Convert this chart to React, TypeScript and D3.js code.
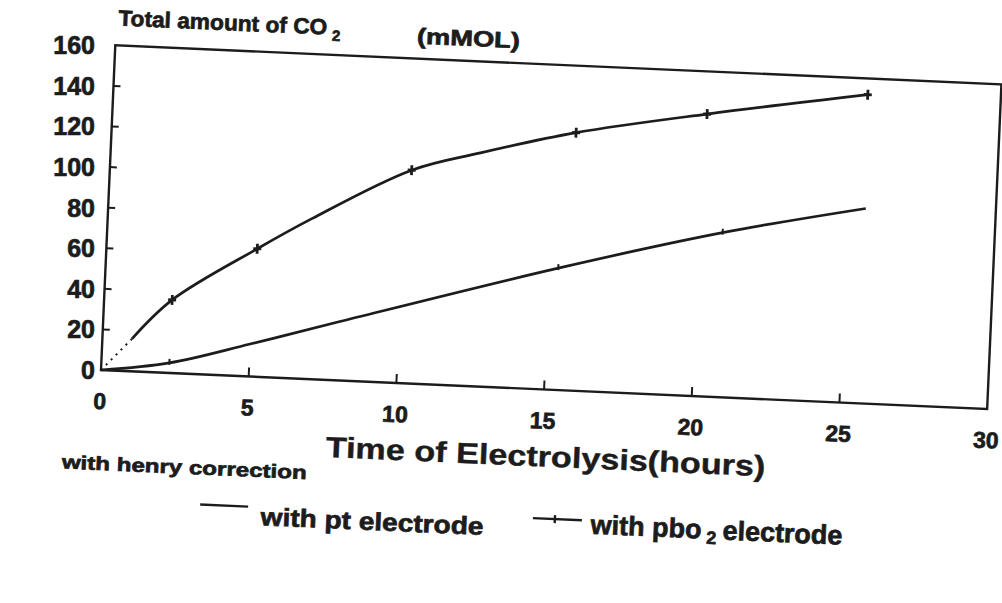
import React from 'react';
import * as d3 from 'd3';

// pt electrode (no markers, small ticks only)
const ptHours = [0, 2.3, 5, 8, 15.3, 20.8, 25.6];
const ptCO2 = [0, 5, 16, 29, 60, 81, 96];
const ptTicked = [2.3, 15.3, 20.8];

// pbo2 electrode (+ markers), first segment from origin is dotted
const pbHours = [1.0, 2.3, 5.1, 6.9, 10.2, 12.5, 15.7, 20.1, 25.5];
const pbCO2 = [16, 36, 63, 79, 105, 115, 127, 139, 152];
const pbMarked = [2.3, 5.1, 10.2, 15.7, 20.1, 25.5];

const xTicks = [0, 5, 10, 15, 20, 25, 30];
const yTicks = [0, 20, 40, 60, 80, 100, 120, 140, 160];

const W = 1002;
const H = 603;
const origin = { x: 101, y: 370 };
const angle = 2.52; // the scan is turned a little
const ink = '#1c1c1c';
const font = "'Liberation Sans', Arial, sans-serif";

// scanned print looks heavier than plain bold
const heavy = { fontWeight: 'bold', fill: ink, stroke: ink, strokeWidth: 0.7 } as const;

export default function App() {
  const x = d3.scaleLinear().domain([0, 30]).range([0, 887]);
  const y = d3.scaleLinear().domain([0, 160]).range([0, -325]);
  const cos = Math.cos((angle * Math.PI) / 180);

  const line = d3
    .line<[number, number]>()
    .x((d) => x(d[0]))
    .y((d) => y(d[1]))
    .curve(d3.curveCatmullRom.alpha(0.5));

  const ptPts = ptHours.map((h, i) => [h, ptCO2[i]] as [number, number]);
  const pbPts = pbHours.map((h, i) => [h, pbCO2[i]] as [number, number]);
  const dotted = d3.line<[number, number]>().x((d) => x(d[0])).y((d) => y(d[1]))([
    [0, 0],
    pbPts[0],
  ]);

  const ptAt = (h: number) => ptCO2[ptHours.indexOf(h)];
  const pbAt = (h: number) => pbCO2[pbHours.indexOf(h)];

  return (
    <svg
      width={W}
      height={H}
      style={{ position: 'absolute', left: 0, top: 0, background: '#fff' }}
      fontFamily={font}
    >
      <rect width={W} height={H} fill="#fff" />

      {/* y tick labels stay upright on the page */}
      {yTicks.map((t) => (
        <text
          key={'yl' + t}
          x={95}
          y={origin.y + y(t) * cos + 9}
          textAnchor="end"
          fontSize={25}
          {...heavy}
        >
          {t}
        </text>
      ))}

      <g transform={`translate(${origin.x},${origin.y}) rotate(${angle})`}>
        {/* frame */}
        <rect
          x={0}
          y={y(160)}
          width={x(30)}
          height={-y(160)}
          fill="none"
          stroke={ink}
          strokeWidth={2.4}
        />
        {xTicks.slice(1, -1).map((t) => (
          <line key={'xt' + t} x1={x(t)} x2={x(t)} y1={0} y2={-9} stroke={ink} strokeWidth={2} />
        ))}
        {yTicks.slice(1, -1).map((t) => (
          <line key={'yt' + t} x1={0} x2={7} y1={y(t)} y2={y(t)} stroke={ink} strokeWidth={2} />
        ))}
        {xTicks.map((t) => (
          <text key={'xl' + t} x={x(t)} y={39} textAnchor="middle" fontSize={23} {...heavy}>
            {t}
          </text>
        ))}

        {/* curves */}
        <path d={line(ptPts) || ''} fill="none" stroke={ink} strokeWidth={2.7} />
        {ptTicked.map((h) => (
          <line
            key={'pt' + h}
            x1={x(h)}
            x2={x(h)}
            y1={y(ptAt(h)) - 4}
            y2={y(ptAt(h)) + 2}
            stroke={ink}
            strokeWidth={2}
          />
        ))}
        <path d={dotted || ''} fill="none" stroke={ink} strokeWidth={2} strokeDasharray="2,5" />
        <path d={line(pbPts) || ''} fill="none" stroke={ink} strokeWidth={2.7} />
        {pbMarked.map((h) => (
          <g key={'pb' + h} transform={`translate(${x(h)},${y(pbAt(h))})`} stroke={ink} strokeWidth={2.8}>
            <line x1={-4} x2={4} y1={0} y2={0} />
            <line x1={0} x2={0} y1={-5} y2={5} />
          </g>
        ))}

        {/* titles */}
        <text x={2} y={-345} fontSize={22} {...heavy} textLength={209} lengthAdjust="spacingAndGlyphs">
          Total amount of CO
        </text>
        <text x={216} y={-339} fontSize={15} {...heavy}>
          2
        </text>
        <text x={301} y={-340} fontSize={22} {...heavy} textLength={103} lengthAdjust="spacingAndGlyphs">
          (mMOL)
        </text>
        <text x={228} y={77} fontSize={29} {...heavy} strokeWidth={0.4} textLength={440} lengthAdjust="spacingAndGlyphs">
          Time of Electrolysis(hours)
        </text>

        {/* legend */}
        <text x={-35} y={100} fontSize={19} {...heavy} textLength={245} lengthAdjust="spacingAndGlyphs">
          with henry correction
        </text>
        <line x1={105} x2={153} y1={130} y2={130} stroke={ink} strokeWidth={2.4} />
        <text x={166} y={148} fontSize={25} {...heavy} textLength={223} lengthAdjust="spacingAndGlyphs">
          with pt electrode
        </text>
        <line x1={438} x2={487} y1={129} y2={129} stroke={ink} strokeWidth={2.4} />
        <line x1={460} x2={460} y1={125} y2={133} stroke={ink} strokeWidth={2.4} />
        <text x={496} y={142} fontSize={27} {...heavy}>
          with pbo
          <tspan fontSize={18} dx={5} dy={5}>2</tspan>
          <tspan dx={6} dy={-5}>electrode</tspan>
        </text>
      </g>
    </svg>
  );
}
